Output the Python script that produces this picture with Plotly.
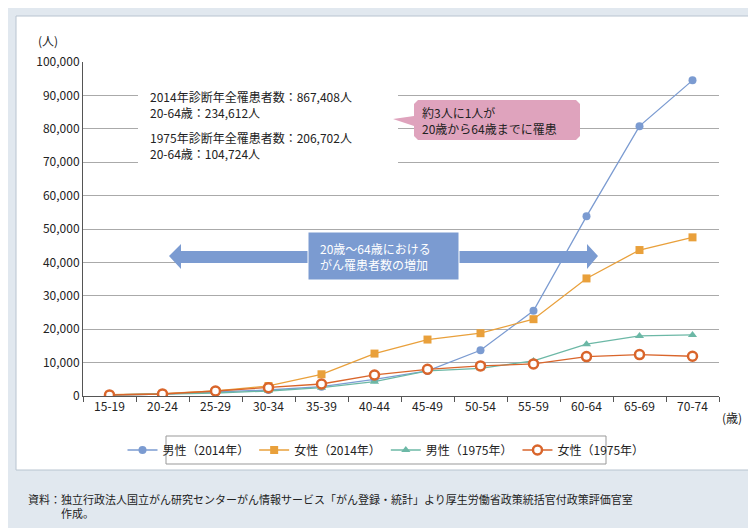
import plotly.graph_objects as go

ages = ["15-19","20-24","25-29","30-34","35-39","40-44","45-49","50-54","55-59","60-64","65-69","70-74"]
male_2014 = [300,600,1200,1800,2800,5000,7500,13700,25500,53800,80800,94500]
female_2014 = [400,700,1500,3000,6500,12700,16900,18800,23000,35200,43700,47500]
male_1975 = [300,500,900,1500,2500,4300,7500,8300,10500,15500,18000,18300]
female_1975 = [300,600,1500,2500,3600,6300,8000,9000,9600,11800,12400,11900]
yticks = list(range(0, 100001, 10000))

L, R, T, B = 75, 45, 54, 140
W, H = 756, 528
PW, PH = W-L-R, H-T-B
def px(x): return (x-L)/PW
def py(y): return (H-B-y)/PH

fig = go.Figure()
font = "Noto Sans CJK JP"
series = [("男性（2014年）", male_2014, "#7b9bd1", "circle", None),
          ("女性（2014年）", female_2014, "#e9a03b", "square", None),
          ("男性（1975年）", male_1975, "#6cb8a6", "triangle-up", None),
          ("女性（1975年）", female_1975, "#d9652b", "circle-open", "white")]
for name, v, c, sym, fill in series:
    mk = dict(color=c, symbol=sym, size=8)
    if fill:
        mk = dict(color="white", symbol="circle", size=9, line=dict(color=c, width=2.5))
    fig.add_trace(go.Scatter(x=ages, y=v, name=name, mode="lines+markers",
                             line=dict(color=c, width=1.3), marker=mk))

shapes = [
    dict(type="rect", xref="paper", yref="paper", x0=px(8), x1=px(748), y0=py(462), y1=py(8),
         fillcolor="white", line=dict(color="#b8c4d0", width=1), layer="below"),
    dict(type="rect", xref="paper", yref="paper", x0=px(158), x1=px(598), y0=py(456), y1=py(428),
         fillcolor="white", line=dict(color="#999", width=1), layer="below"),
    dict(type="rect", xref="paper", yref="paper", x0=px(130), x1=px(390), y0=py(155), y1=py(75),
         fillcolor="white", line=dict(width=0)),
]
pts = [(161,248),(173,236),(173,243),(579,243),(579,236),(590,248),(579,261),(579,255),(173,255),(173,261)]
path = "M " + " L ".join(f"{px(a)},{py(b)}" for a,b in pts) + " Z"
shapes.append(dict(type="path", xref="paper", yref="paper", path=path, fillcolor="#7b9bd1", line=dict(width=0)))
shapes.append(dict(type="rect", xref="paper", yref="paper", x0=px(300), x1=px(451), y0=py(272), y1=py(224),
                   fillcolor="#7b9bd1", line=dict(color="white", width=1)))
cp = [(410,92),(568,92),(572,96),(572,128),(568,132),(410,132),(406,128),(406,118),(385,111),(406,108),(406,96)]
shapes.append(dict(type="path", xref="paper", yref="paper",
                   path="M " + " L ".join(f"{px(a)},{py(b)}" for a,b in cp) + " Z",
                   fillcolor="#dfa3bd", line=dict(width=0)))

ann = [
    dict(x=px(140), y=py(96), text="2014年診断年全罹患者数：867,408人<br>20-64歳：234,612人"),
    dict(x=px(140), y=py(137), text="1975年診断年全罹患者数：206,702人<br>20-64歳：104,724人"),
    dict(x=px(412), y=py(112), text="約3人に1人が<br>20歳から64歳までに罹患"),
    dict(x=px(310), y=py(248), text="20歳～64歳における<br>がん罹患者数の増加", font=dict(color="white", size=12, family=font)),
    dict(x=px(28), y=py(32), text="(人)"),
    dict(x=px(712), y=py(409), text="(歳)"),
    dict(x=px(18), y=py(498), text="資料：独立行政法人国立がん研究センターがん情報サービス「がん登録・統計」より厚生労働省政策統括官付政策評価官室<br>　　　作成。", font=dict(size=11, family=font, color="#222")),
]
for a in ann:
    a.setdefault("font", dict(size=12, family=font, color="#222"))
    fig.add_annotation(xref="paper", yref="paper", showarrow=False, xanchor="left", yanchor="middle", align="left", **a)

fig.update_layout(
    width=W, height=H, margin=dict(l=L, r=R, t=T, b=B),
    paper_bgcolor="#e1e8ef", plot_bgcolor="white",
    font=dict(family=font, size=12, color="#222"),
    shapes=shapes,
    legend=dict(orientation="h", x=px(378), xanchor="center", y=py(442), yanchor="middle",
                bgcolor="rgba(0,0,0,0)", font=dict(size=12)),
    xaxis=dict(type="category", tickson="boundaries", ticks="outside", ticklen=5, tickcolor="#555",
               showline=True, linecolor="#555", showgrid=False, range=[-0.5, 11.5], tickfont=dict(size=12)),
    yaxis=dict(range=[0, 100000], tickvals=yticks, tickformat=",", gridcolor="#aaa", gridwidth=1,
               showline=True, linecolor="#555", zeroline=False, tickfont=dict(size=12)),
)
fig.write_html("out.html")
